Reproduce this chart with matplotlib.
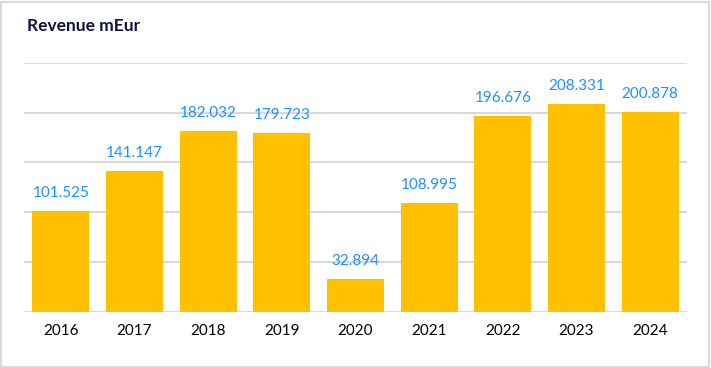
import matplotlib.pyplot as plt
from matplotlib.patches import Rectangle

years = ["2016", "2017", "2018", "2019", "2020", "2021", "2022", "2023", "2024"]
revenue = [101.525, 141.147, 182.032, 179.723, 32.894, 108.995, 196.676, 208.331, 200.878]
labels = ["101.525", "141.147", "182.032", "179.723", "32.894", "108.995", "196.676", "208.331", "200.878"]

plt.rcParams["font.family"] = ["Lato", "DejaVu Sans"]

W, H = 711, 368
fig = plt.figure(figsize=(W / 100, H / 100), dpi=100)
fig.patch.set_facecolor("white")
fig.patches.append(Rectangle((1 / W, 1 / H), 1 - 3 / W, 1 - 3 / H, transform=fig.transFigure,
                             fill=False, edgecolor="#D9D9D9", linewidth=1.5))

ax = fig.add_axes([24 / W, (H - 311.5) / H, 663 / W, (311.5 - 63) / H])
x = range(len(years))
ax.bar(x, revenue, width=0.77, color="#FFC000", zorder=3)
for xi, v, lab in zip(x, revenue, labels):
    ax.text(xi, v + 11, lab, ha="center", va="bottom", fontsize=11, color="#1E8FFF")

ax.set_xlim(-0.5, len(years) - 0.5)
ax.set_ylim(0, 250)
ax.set_yticks([0, 50, 100, 150, 200, 250])
ax.yaxis.grid(True, color="#D9D9D9", linewidth=1.5, zorder=0)
ax.set_yticklabels([])
ax.tick_params(axis="y", length=0)
ax.set_xticks(list(x))
ax.set_xticklabels(years, fontsize=11, color="#000000")
ax.tick_params(axis="x", length=0, pad=9)
for s in ax.spines.values():
    s.set_visible(False)
ax.set_facecolor("none")

fig.text(27 / W, 1 - 26 / H, "Revenue mEur", fontsize=12.5, fontweight="bold",
         color="#10123F", va="center", ha="left")

fig.savefig("out.png", dpi=100)
